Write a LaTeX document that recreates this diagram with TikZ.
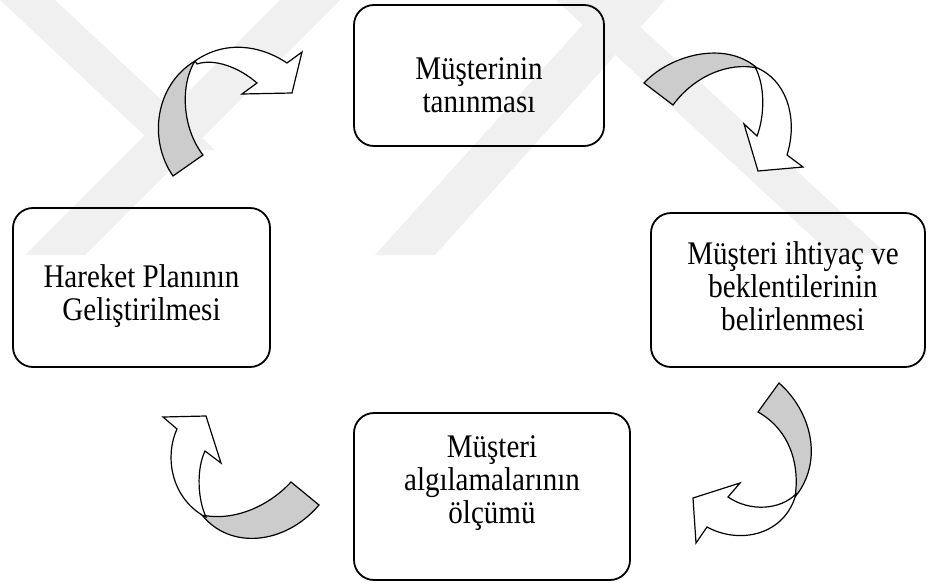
\documentclass[tikz,border=0pt]{standalone}
\usepackage{fontspec}
\setmainfont{Liberation Serif}
\newfontfamily\cardfont[FakeStretch=0.88]{Liberation Serif}
\usetikzlibrary{positioning}
\definecolor{Mark}{HTML}{F0F0F0}
\definecolor{Fold}{HTML}{CCCCCC}

\begin{document}
\begin{tikzpicture}[
      x=1pt,y=-1pt,
      card/.style={draw,line width=1.8pt,rounded corners=20pt},
      cardtext/.style={align=center,inner sep=0pt,font=\cardfont\fontsize{33}{33}\selectfont},
      fold/.style={draw,line width=1.2pt,fill=Fold,line join=miter},
      face/.style={draw,line width=1.2pt,fill=white,line join=miter}
    ]
      \useasboundingbox (0,0) rectangle (928,586);
      \begin{scope}
        \clip (0,0) rectangle (928,255);
        \fill[Mark] (0,0) -- (55,0) -- (215,150) -- (160,150) -- cycle;
        \fill[Mark] (280,0) -- (340,0) -- (85,255) -- (25,255) -- cycle;
        \fill[Mark] (605,0) -- (665,0) -- (435,255) -- (375,255) -- cycle;
        \fill[Mark] (556,0) -- (611,0) -- (888,255) -- (832,255) -- cycle;
      \end{scope}

      \node[card,minimum width=250pt,minimum height=141pt] (know) at (479,75.5) {};
      \node[cardtext] (knowtext) at ([yshift=-9.8pt]know.center) {Müşterinin\\tanınması};
      \node[card,minimum width=274pt,minimum height=154pt] (needs) at (788,290) {};
      \node[cardtext] (needstext) at ([xshift=5pt,yshift=4pt]needs.center)
        {Müşteri ihtiyaç ve\\beklentilerinin\\belirlenmesi};
      \node[card,minimum width=276pt,minimum height=167pt] (measure) at (492,496.5) {};
      \node[cardtext] (measuretext) at ([yshift=13pt]measure.center) {Müşteri\\algılamalarının\\ölçümü};
      \node[card,minimum width=257pt,minimum height=159pt] (plan) at (141.5,287.5) {};
      \node[cardtext] (plantext) at ([yshift=-8.3pt]plan.center) {Hareket Planının\\Geliştirilmesi};

      \draw[fold] (173,176) .. controls (148,140) and (155,85) .. (195,61)
        .. controls (180,85) and (182,128) .. (203,155) -- cycle;
      \draw[face] (195,61) .. controls (225,40) and (260,45) .. (287,63) -- (302,52) -- (292,93)
        -- (242,94) -- (257,83) .. controls (240,68) and (215,58) .. (197,64) -- cycle;

      \draw[fold] (644,83) .. controls (670,55) and (725,40) .. (757,68)
        .. controls (730,62) and (695,75) .. (673,105) -- cycle;
      \draw[face] (755,67) .. controls (788,80) and (798,120) .. (787,155) -- (803,167) -- (758,171)
        -- (744,124) -- (757,136) .. controls (765,115) and (765,85) .. (755,67) -- cycle;

      \draw[fold] (758,412) -- (779,383) .. controls (810,410) and (825,460) .. (795,497)
        .. controls (800,465) and (790,430) .. (758,412) -- cycle;
      \draw[face] (796,494) .. controls (780,510) and (750,512) .. (728,497) -- (740,483) -- (693,498)
        -- (696,543) -- (707,527) .. controls (740,545) and (785,535) .. (796,494) -- cycle;

      \draw[fold] (291,482) -- (319,505) .. controls (285,545) and (230,550) .. (202,515)
        .. controls (235,522) and (270,505) .. (291,482) -- cycle;
      \draw[face] (202,515) .. controls (170,495) and (165,455) .. (177,429) -- (163,417) -- (206,416)
        -- (221,463) -- (205,451) .. controls (196,470) and (198,500) .. (206,517) -- cycle;
    \end{tikzpicture}
\end{document}
